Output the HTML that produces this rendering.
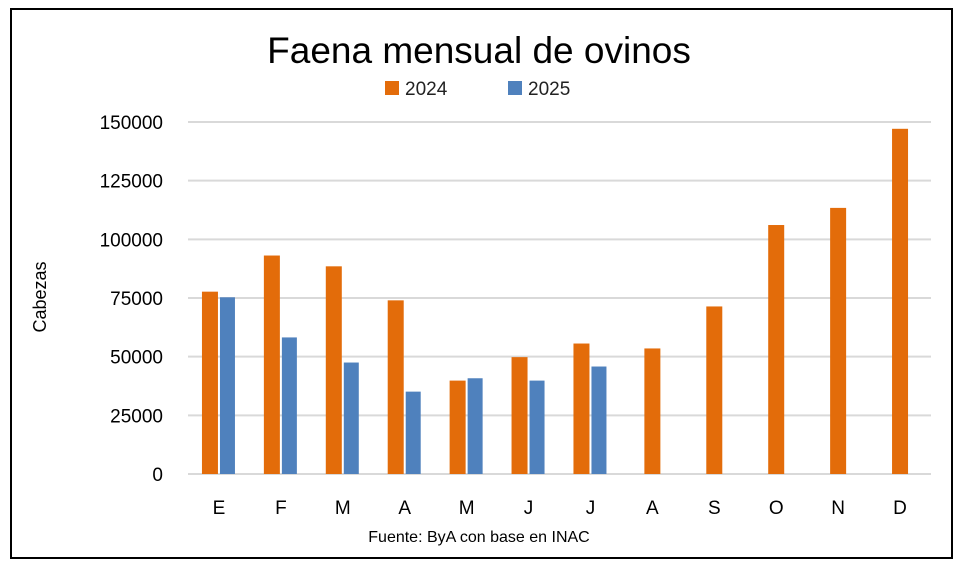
<!DOCTYPE html>
<html><head><meta charset="utf-8"><style>
body{margin:0;background:#fff;font-family:"Liberation Sans",sans-serif}
</style></head><body>
<svg width="963" height="571" viewBox="0 0 963 571" font-family="Liberation Sans, sans-serif">
<rect x="11" y="9" width="941" height="549" fill="#fff" stroke="#000" stroke-width="2"/>
<text x="479" y="63" font-size="37" text-anchor="middle" fill="#000">Faena mensual de ovinos</text>
<g>
<rect x="385" y="81" width="14" height="14" fill="#E36C0A"/>
<text x="405" y="95" font-size="19" fill="#222">2024</text>
<rect x="508" y="81" width="14" height="14" fill="#4F81BD"/>
<text x="528" y="95" font-size="19" fill="#222">2025</text>
</g>
<text transform="translate(46,297) rotate(-90)" font-size="18" text-anchor="middle" fill="#000">Cabezas</text>
<text x="479" y="542" font-size="16" text-anchor="middle" fill="#000">Fuente: ByA con base en INAC</text>
<g id="grid"></g><g id="bars"></g><g id="labels"></g>
</svg>
<script>
const categories=["E","F","M","A","M","J","J","A","S","O","N","D"];
const series2024=[77700,93100,88500,74000,39800,49800,55600,53500,71400,106100,113400,147100];
const series2025=[75300,58200,47500,35100,40800,39800,45800,null,null,null,null,null];
const yTicks=[0,25000,50000,75000,100000,125000,150000];
const NS="http://www.w3.org/2000/svg";
const x0=188,x1=931,y0=474,yTop=122,yMax=150000;
const bw=(x1-x0)/categories.length;
function yS(v){return y0-(v/yMax)*(y0-yTop);}
function xC(i){return x0+bw*(i+0.5);}
function mk(t,a,p){const e=document.createElementNS(NS,t);for(const k in a)e.setAttribute(k,a[k]);p.appendChild(e);return e;}
const grid=document.getElementById('grid'),bars=document.getElementById('bars'),labels=document.getElementById('labels');
yTicks.forEach(v=>{
 const l=mk('line',{x1:x0,x2:x1,y1:yS(v),y2:yS(v),stroke:'#d9d9d9','stroke-width':2},grid);
 
 
 const t=mk('text',{x:163,y:yS(v)+7,'font-size':19,'text-anchor':'end',fill:'#000'},labels);
 t.textContent=v;
 
 
});
categories.forEach((c,i)=>{
 const cx=xC(i);
 const v1=series2024[i];
 if(v1!=null){const has2=series2025[i]!=null;const bx=has2?cx-17:cx-8;
  const r=mk('rect',{x:bx,y:yS(v1),width:16,height:y0-yS(v1),fill:'#E36C0A'},bars);
  
  }
 const v2=series2025[i];
 if(v2!=null){const r=mk('rect',{x:cx+1,y:yS(v2),width:15,height:y0-yS(v2),fill:'#4F81BD'},bars);
  
  }
 const t=mk('text',{x:cx,y:514,'font-size':19,'text-anchor':'middle',fill:'#000'},labels);
 t.textContent=c;
 
 
});
</script>
</body></html>
